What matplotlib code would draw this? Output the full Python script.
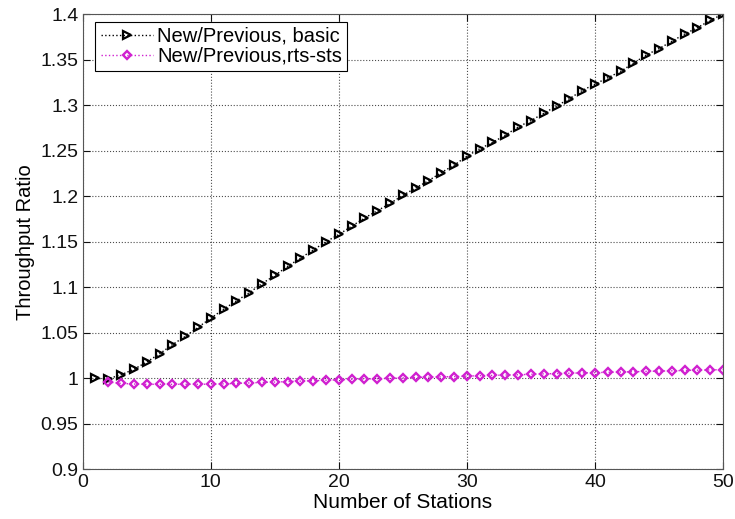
import numpy as np
import matplotlib.pyplot as plt
from matplotlib.ticker import FuncFormatter

plt.rcParams['font.family'] = ['Liberation Sans', 'DejaVu Sans']

# Throughput ratio vs. number of stations
stations_basic = list(range(1, 51))
ratio_basic = [1.000, 0.9996, 1.004, 1.010, 1.018, 1.027, 1.037, 1.046, 1.056, 1.066,
               1.076, 1.085, 1.094, 1.104, 1.113, 1.123, 1.132, 1.141, 1.150, 1.158,
               1.167, 1.176, 1.184, 1.192, 1.201, 1.209, 1.217, 1.226, 1.234, 1.244,
               1.252, 1.259, 1.267, 1.276, 1.283, 1.291, 1.299, 1.307, 1.316, 1.323,
               1.330, 1.337, 1.346, 1.355, 1.362, 1.370, 1.378, 1.385, 1.393, 1.400]

stations_rts = list(range(2, 51))
ratio_rts = [0.996, 0.9945, 0.9938, 0.9935, 0.9935, 0.9935, 0.9935, 0.9935, 0.9937,
             0.994, 0.9945, 0.995, 0.9955, 0.996, 0.9965, 0.997, 0.9975, 0.998, 0.9985,
             0.999, 0.9993, 0.9997, 1.000, 1.0005, 1.001, 1.0013, 1.0017, 1.002, 1.0025,
             1.003, 1.0033, 1.0037, 1.004, 1.0045, 1.005, 1.0053, 1.0057, 1.006, 1.0063,
             1.0067, 1.007, 1.0073, 1.0077, 1.008, 1.0083, 1.0087, 1.009, 1.0093, 1.0097]

fig = plt.figure(figsize=(7.35, 5.19), dpi=100)
ax = fig.add_axes([0.1125, 0.0954, 0.8712, 0.8776])

ax.plot(stations_basic, ratio_basic, linestyle=':', color='black', linewidth=1,
        marker='>', markersize=5.5, markerfacecolor='none', markeredgewidth=1.6,
        label='New/Previous, basic')
ax.plot(stations_rts, ratio_rts, linestyle=':', color='#d020d0', linewidth=1,
        marker='D', markersize=4.2, markerfacecolor='none', markeredgewidth=1.7,
        label='New/Previous,rts-sts')

ax.set_xlim(0, 50)
ax.set_ylim(0.9, 1.4)
ax.set_xticks(np.arange(0, 51, 10))
ax.set_yticks(np.arange(0.9, 1.401, 0.05))
ax.yaxis.set_major_formatter(FuncFormatter(lambda v, p: '%g' % round(v, 2)))
ax.tick_params(direction='in', top=True, right=True, length=5, labelsize=14,
               pad=3, colors='#111111')
ax.grid(True, linestyle=':', color='black', linewidth=0.8, alpha=0.7)
for s in ax.spines.values():
    s.set_color('#555555')

ax.set_xlabel('Number of Stations', fontsize=15, labelpad=2)
ax.set_ylabel('Throughput Ratio', fontsize=14.5, labelpad=4)

leg = ax.legend(loc='upper left', bbox_to_anchor=(0.02, 0.983), fontsize=14.5,
                fancybox=False, framealpha=1, edgecolor='black', borderpad=0.25,
                handlelength=2.6, handletextpad=0.2, labelspacing=0.05, borderaxespad=0)
leg.get_frame().set_linewidth(0.8)

fig.savefig('out.png', dpi=100)
